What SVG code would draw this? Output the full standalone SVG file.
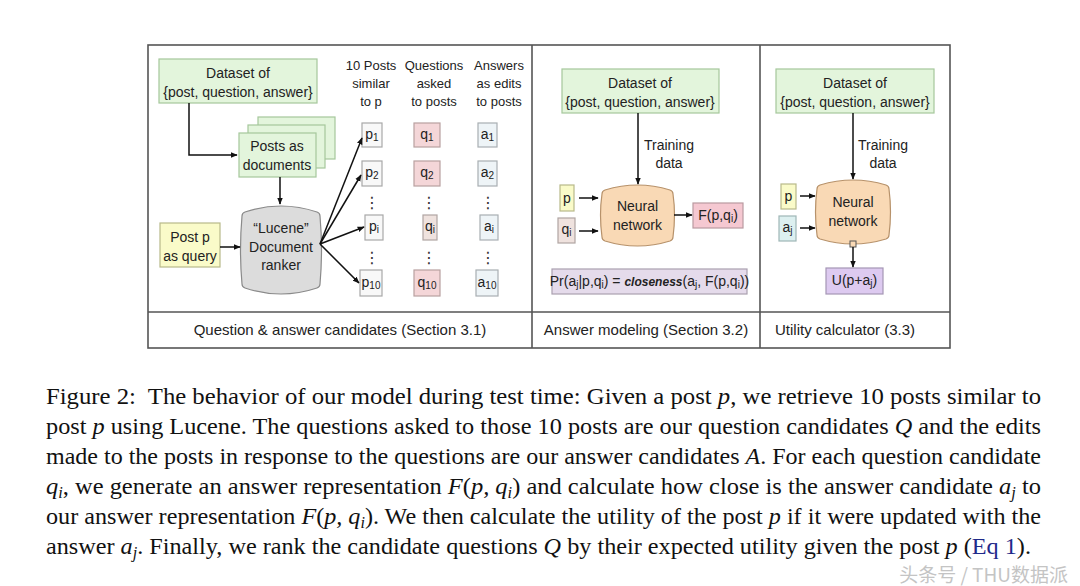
<svg xmlns="http://www.w3.org/2000/svg" width="1080" height="586" viewBox="0 0 1080 586">
<defs>
<marker id="ah" viewBox="0 0 10 10" refX="9" refY="5" markerWidth="7" markerHeight="7" markerUnits="userSpaceOnUse" orient="auto">
<path d="M0,1 L10,5 L0,9 Z" fill="#111"/>
</marker>
<style>
.t{font-family:"Liberation Sans",Arial,sans-serif;font-size:14px;fill:#222;text-anchor:middle}
.h{font-family:"Liberation Sans",Arial,sans-serif;font-size:13px;fill:#222;text-anchor:middle}
.s{font-family:"Liberation Sans",Arial,sans-serif;font-size:15px;fill:#222;text-anchor:middle}
.c{font-family:"Liberation Serif","Times New Roman",serif;font-size:24px;fill:#111}
.m{font-style:italic}
.b{font-size:10px}
.frame{fill:#fff;stroke:#555;stroke-width:1.6}
.div{stroke:#555;stroke-width:1.6}
.green{fill:#e3f5dc;stroke:#a5c79b;stroke-width:1.2}
.yel{fill:#fafbc9;stroke:#b8b98a;stroke-width:1.2}
.gray{fill:#dcdcdc;stroke:#8a8a8a;stroke-width:1.2}
.peach{fill:#f9d9b5;stroke:#b7926b;stroke-width:1.2}
.pbox{fill:#f8f8f8;stroke:#a8a8a8;stroke-width:1.2}
.qbox{fill:#f4d6d8;stroke:#b8a0a0;stroke-width:1.2}
.qibox{fill:#efe2de;stroke:#b0a5a2;stroke-width:1.2}
.abox{fill:#eef4f7;stroke:#a8aeb2;stroke-width:1.2}
.pink{fill:#f5c8d1;stroke:#b99aa0;stroke-width:1.2}
.lav{fill:#e5dbeb;stroke:#aaa0b0;stroke-width:1.2}
.lav2{fill:#ddcaf0;stroke:#a596b5;stroke-width:1.2}
.cyan{fill:#ddf0f0;stroke:#9fb6b6;stroke-width:1.2}
.ln{stroke:#111;stroke-width:1.5;fill:none}
.dots{font-family:"DejaVu Sans",sans-serif;font-size:16px;fill:#333;text-anchor:middle}
</style>
</defs>
<rect width="1080" height="586" fill="#fff"/>

<g id="frame">
<rect class="frame" x="148" y="45" width="802" height="303"/>
<line class="div" x1="148" y1="312" x2="950" y2="312"/>
<line class="div" x1="532" y1="45" x2="532" y2="348"/>
<line class="div" x1="760" y1="45" x2="760" y2="348"/>
<text class="s" x="340" y="335">Question &amp; answer candidates (Section 3.1)</text>
<text class="s" x="646" y="335">Answer modeling (Section 3.2)</text>
<text class="s" x="845" y="335">Utility calculator (3.3)</text>
</g>

<g id="dataset1">
<rect class="green" x="159" y="59" width="158" height="44"/>
<text class="t" x="238" y="78">Dataset of</text>
<text class="t" x="238" y="97">{post, question, answer}</text>
</g>
<g id="posts-docs">
<rect class="green" x="258" y="117" width="77" height="42"/>
<rect class="green" x="248" y="125" width="77" height="43"/>
<rect class="green" x="239" y="133" width="77" height="44"/>
<text class="t" x="277" y="151">Posts as</text>
<text class="t" x="277" y="170">documents</text>
</g>
<g id="post-query">
<rect class="yel" x="160" y="223" width="60" height="44"/>
<text class="t" x="190" y="242">Post p</text>
<text class="t" x="190" y="261">as query</text>
</g>
<g id="lucene">
<path class="gray" d="M242,216 Q242,213 245,212 Q281,200 317,212 Q320,213 320,216 Q323,250 320,284 Q320,287 317,288 Q281,300 245,288 Q242,287 242,284 Q239,250 242,216 Z"/>
<text class="t" x="281" y="233">“Lucene”</text>
<text class="t" x="281" y="252">Document</text>
<text class="t" x="281" y="270">ranker</text>
</g>
<g id="headers">
<text class="h" x="371" y="70">10 Posts</text>
<text class="h" x="371" y="88">similar</text>
<text class="h" x="371" y="106">to p</text>
<text class="h" x="434" y="70">Questions</text>
<text class="h" x="434" y="88">asked</text>
<text class="h" x="434" y="106">to posts</text>
<text class="h" x="499" y="70">Answers</text>
<text class="h" x="499" y="88">as edits</text>
<text class="h" x="499" y="106">to posts</text>
</g>
<g id="p-col">
<rect class="pbox" x="362" y="123" width="20" height="24"/>
<text class="t" x="372" y="139">p<tspan class="b" dy="2">1</tspan></text>
<rect class="pbox" x="362" y="161" width="20" height="25"/>
<text class="t" x="372" y="177">p<tspan class="b" dy="2">2</tspan></text>
<text class="dots" x="372" y="208">⋮</text>
<rect class="pbox" x="365" y="215" width="18" height="25"/>
<text class="t" x="374" y="231">p<tspan class="b" dy="2">i</tspan></text>
<text class="dots" x="372" y="263">⋮</text>
<rect class="pbox" x="360" y="270" width="22" height="26"/>
<text class="t" x="371" y="287">p<tspan class="b" dy="2">10</tspan></text>
</g>
<g id="q-col">
<rect class="qbox" x="414" y="123" width="26" height="24"/>
<text class="t" x="427" y="139">q<tspan class="b" dy="2">1</tspan></text>
<rect class="qbox" x="414" y="161" width="26" height="25"/>
<text class="t" x="427" y="177">q<tspan class="b" dy="2">2</tspan></text>
<text class="dots" x="429" y="208">⋮</text>
<rect class="qibox" x="423" y="215" width="14" height="25"/>
<text class="t" x="430" y="231">q<tspan class="b" dy="2">i</tspan></text>
<text class="dots" x="429" y="263">⋮</text>
<rect class="qbox" x="414" y="270" width="26" height="26"/>
<text class="t" x="427" y="287">q<tspan class="b" dy="2">10</tspan></text>
</g>
<g id="a-col">
<rect class="abox" x="478" y="123" width="19" height="24"/>
<text class="t" x="487.5" y="139">a<tspan class="b" dy="2">1</tspan></text>
<rect class="abox" x="478" y="161" width="19" height="25"/>
<text class="t" x="487.5" y="177">a<tspan class="b" dy="2">2</tspan></text>
<text class="dots" x="488" y="208">⋮</text>
<rect class="abox" x="480" y="215" width="18" height="25"/>
<text class="t" x="489" y="231">a<tspan class="b" dy="2">i</tspan></text>
<text class="dots" x="488" y="263">⋮</text>
<rect class="abox" x="476" y="270" width="22" height="26"/>
<text class="t" x="487" y="287">a<tspan class="b" dy="2">10</tspan></text>
</g>

<g id="dataset2">
<rect class="green" x="562" y="69" width="157" height="44"/>
<text class="t" x="640" y="88">Dataset of</text>
<text class="t" x="640" y="107">{post, question, answer}</text>
</g>
<g id="train2">
<text class="t" x="669" y="150">Training</text>
<text class="t" x="669" y="168">data</text>
</g>
<g id="p2">
<rect class="yel" x="560" y="185" width="14" height="26"/>
<text class="t" x="567" y="203">p</text>
</g>
<g id="qi2">
<rect class="qibox" x="558" y="218" width="17" height="25"/>
<text class="t" x="566.5" y="234">q<tspan class="b" dy="2">i</tspan></text>
</g>
<g id="nn2">
<path class="peach" d="M602,194 Q602,191 605,190 Q637.5,180 670,190 Q673,191 673,194 Q676,215 673,237 Q673,240 670,241 Q637.5,251 605,241 Q602,240 602,237 Q599,215 602,194 Z"/>
<text class="t" x="637.5" y="211">Neural</text>
<text class="t" x="637.5" y="230">network</text>
</g>
<g id="F">
<rect class="pink" x="693" y="203" width="50" height="25"/>
<text class="t" x="718" y="220">F(p,q<tspan class="b" dy="2">i</tspan><tspan dy="-2">)</tspan></text>
</g>
<g id="Pr">
<rect class="lav" x="552" y="269" width="195" height="25"/>
<text class="t" x="649.5" y="286" font-size="13">Pr(a<tspan class="b" dy="2">j</tspan><tspan dy="-2">|p,q</tspan><tspan class="b" dy="2">i</tspan><tspan dy="-2">) = </tspan><tspan font-style="italic" font-weight="bold" font-size="12">closeness</tspan>(a<tspan class="b" dy="2">j</tspan><tspan dy="-2">, F(p,q</tspan><tspan class="b" dy="2">i</tspan><tspan dy="-2">))</tspan></text>
</g>

<g id="dataset3">
<rect class="green" x="776" y="69" width="158" height="44"/>
<text class="t" x="855" y="88">Dataset of</text>
<text class="t" x="855" y="107">{post, question, answer}</text>
</g>
<g id="train3">
<text class="t" x="883" y="150">Training</text>
<text class="t" x="883" y="168">data</text>
</g>
<g id="p3">
<rect class="yel" x="781" y="184" width="15" height="25"/>
<text class="t" x="788.5" y="201">p</text>
</g>
<g id="aj3">
<rect class="cyan" x="779" y="216" width="17" height="25"/>
<text class="t" x="787.5" y="232">a<tspan class="b" dy="2">j</tspan></text>
</g>
<g id="nn3">
<path class="peach" d="M817,189 Q817,186 820,185 Q853,175 886,185 Q889,186 889,189 Q892,212 889,235 Q889,238 886,239 Q853,249 820,239 Q817,238 817,235 Q814,212 817,189 Z"/>
<text class="t" x="853" y="207">Neural</text>
<text class="t" x="853" y="226">network</text>
<rect x="850" y="241" width="6" height="6" fill="#f9d9b5" stroke="#555" stroke-width="1"/>
</g>
<g id="U">
<rect class="lav2" x="826" y="268" width="57" height="26"/>
<text class="t" x="854.5" y="285">U(p+a<tspan class="b" dy="2">j</tspan><tspan dy="-2">)</tspan></text>
</g>

<g id="connectors">
<path class="ln" d="M189,103 V155 H237" marker-end="url(#ah)"/>
<path class="ln" d="M280,177 V204" marker-end="url(#ah)"/>
<path class="ln" d="M220,247 H240" marker-end="url(#ah)"/>
<path class="ln" d="M320,244 L362,138" marker-end="url(#ah)"/>
<path class="ln" d="M320,244 L361,175" marker-end="url(#ah)"/>
<path class="ln" d="M320,244 L364,227" marker-end="url(#ah)"/>
<path class="ln" d="M320,244 L359,283" marker-end="url(#ah)"/>
<path class="ln" d="M638,113 V184" marker-end="url(#ah)"/>
<path class="ln" d="M579,198 H598" marker-end="url(#ah)"/>
<path class="ln" d="M579,231 H598" marker-end="url(#ah)"/>
<path class="ln" d="M674,215 H692" marker-end="url(#ah)"/>
<path class="ln" d="M853,113 V179" marker-end="url(#ah)"/>
<path class="ln" d="M800,196 H815" marker-end="url(#ah)"/>
<path class="ln" d="M800,228 H815" marker-end="url(#ah)"/>
<path class="ln" d="M853,247 V267" marker-end="url(#ah)"/>
</g>

<g id="caption">
<text class="c" x="46" y="404" textLength="995" lengthAdjust="spacingAndGlyphs">Figure 2:&#160; The behavior of our model during test time: Given a post <tspan class="m">p</tspan>, we retrieve 10 posts similar to</text>
<text class="c" x="46" y="434" textLength="995" lengthAdjust="spacingAndGlyphs">post <tspan class="m">p</tspan> using Lucene. The questions asked to those 10 posts are our question candidates <tspan class="m">Q</tspan> and the edits</text>
<text class="c" x="46" y="464" textLength="995" lengthAdjust="spacingAndGlyphs">made to the posts in response to the questions are our answer candidates <tspan class="m">A</tspan>. For each question candidate</text>
<text class="c" x="46" y="494" textLength="995" lengthAdjust="spacingAndGlyphs"><tspan class="m">q</tspan><tspan class="m" font-size="16" dy="4">i</tspan><tspan dy="-4">, we generate an answer representation </tspan><tspan class="m">F</tspan>(<tspan class="m">p, q</tspan><tspan class="m" font-size="16" dy="4">i</tspan><tspan dy="-4">) and calculate how close is the answer candidate </tspan><tspan class="m">a</tspan><tspan class="m" font-size="16" dy="4">j</tspan><tspan dy="-4"> to</tspan></text>
<text class="c" x="46" y="524" textLength="995" lengthAdjust="spacingAndGlyphs">our answer representation <tspan class="m">F</tspan>(<tspan class="m">p, q</tspan><tspan class="m" font-size="16" dy="4">i</tspan><tspan dy="-4">). We then calculate the utility of the post </tspan><tspan class="m">p</tspan> if it were updated with the</text>
<text class="c" x="46" y="554" textLength="985" lengthAdjust="spacingAndGlyphs">answer <tspan class="m">a</tspan><tspan class="m" font-size="16" dy="4">j</tspan><tspan dy="-4">. Finally, we rank the candidate questions </tspan><tspan class="m">Q</tspan> by their expected utility given the post <tspan class="m">p</tspan> (<tspan fill="#1f2a8a">Eq 1</tspan>).</text>
</g>

<g id="watermark">
<text x="1068" y="582" text-anchor="end" font-family="'Noto Sans CJK SC','Liberation Sans',sans-serif" font-size="19" fill="#c4c4c4">头条号 / THU数据派</text>
</g>
</svg>
